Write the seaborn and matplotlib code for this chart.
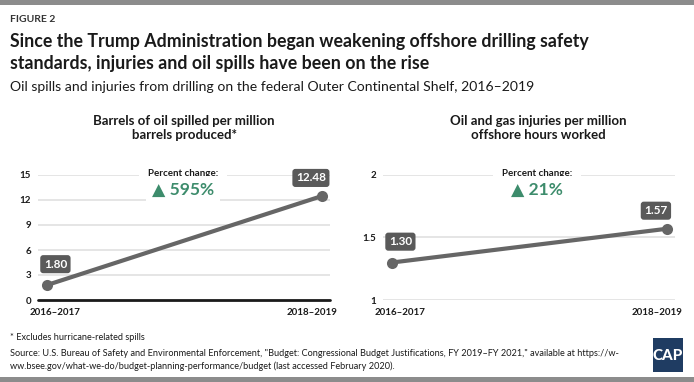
import matplotlib
matplotlib.use("Agg")
import matplotlib.pyplot as plt
import seaborn as sns
from matplotlib.patches import Rectangle
from matplotlib.transforms import ScaledTranslation

sns.set_theme(style="white")
plt.rcParams['font.family'] = ['Lato', 'DejaVu Sans']

# ---- data ----
periods = ["2016\u20132017", "2018\u20132019"]
oil_spilled = [1.80, 12.48]
injuries = [1.30, 1.57]
oil_change = "\u25b2 595%"
injury_change = "\u25b2 21%"
oil_title = "Barrels of oil spilled per million\nbarrels produced*"
injury_title = "Oil and gas injuries per million\noffshore hours worked"
oil_ticks = [0, 3, 6, 9, 12, 15]
injury_ticks = [1, 1.5, 2]
injury_ticklabels = ["1", "1.5", "2"]

LINE = "#666666"
BOX = "#5a5a5a"
GREEN = "#3d8c6c"
GRID = "#e0e0e0"

W, H = 694, 382
fig = plt.figure(figsize=(W / 100, H / 100), dpi=100)


def px_axes(x0, x1, ytop, ybot):
    return fig.add_axes([x0 / W, (H - ybot) / H, (x1 - x0) / W, (ybot - ytop) / H])


def panel(ax, values, ticks, ticklabels, ylim, change, title, cx, black_base):
    ax.set_ylim(*ylim)
    for t in ticks:
        if t == ylim[0] and black_base:
            continue
        ax.axhline(t, color=GRID, lw=1.2, zorder=0)
    if black_base:
        ax.axhline(ylim[0], color="#1a1a1a", lw=2, zorder=1, clip_on=False)
    sns.lineplot(x=periods, y=values, ax=ax, color=LINE, lw=3, marker="o",
                 markersize=8, markeredgewidth=0, zorder=3, clip_on=False)
    ax.set_xlim(-0.033, 1.029)
    ax.set_yticks(ticks)
    ax.set_yticklabels(ticklabels)
    ax.tick_params(axis="y", length=0, pad=5, labelsize=7)
    ax.tick_params(axis="x", length=0, pad=6, labelsize=7)
    for lab in ax.get_yticklabels() + ax.get_xticklabels():
        lab.set_fontweight("bold")
        lab.set_color("#1a1a1a")
    for lab, dx in zip(ax.get_xticklabels(), [8, -10]):
        lab.set_transform(lab.get_transform() + ScaledTranslation(dx / 100, 0, fig.dpi_scale_trans))
    ax.set_xlabel("")
    ax.set_ylabel("")
    sns.despine(ax=ax, left=True, bottom=True)
    for i, v in enumerate(values):
        off = (6, 15) if i == 0 else (-8, 13)
        ax.annotate(f"{v:.2f}", (i, v), xytext=off, textcoords="offset points",
                    ha="center", va="center", color="white", fontsize=8.5,
                    fontweight="bold", zorder=5, annotation_clip=False,
                    bbox=dict(boxstyle="round,pad=0.3,rounding_size=0.25",
                              fc=BOX, ec="none"))
    # percent change block
    fig.text(cx / W, 1 - 173 / H, "Percent change:", ha="center", va="center",
             fontsize=7, fontweight="bold", color="#1a1a1a", zorder=6,
             bbox=dict(boxstyle="square,pad=0.9", fc="white", ec="none"))
    fig.text(cx / W, 1 - 190 / H, change, ha="center", va="center",
             fontsize=12.5, fontweight="bold", color=GREEN, zorder=6,
             bbox=dict(boxstyle="square,pad=0.35", fc="white", ec="none"))
    fig.text((cx + 1) / W, 1 - 128 / H, title, ha="center", va="center",
             fontsize=9.5, fontweight="bold", color="#1a1a1a", linespacing=1.2)


ax1 = px_axes(38, 330, 175, 300)
panel(ax1, oil_spilled, oil_ticks, [str(t) for t in oil_ticks], (0, 15),
      oil_change, oil_title, 183, True)

ax2 = px_axes(383, 675, 175, 300)
panel(ax2, injuries, injury_ticks, injury_ticklabels, (1, 2),
      injury_change, injury_title, 537, False)

# header
fig.patches.append(Rectangle((0, 1 - 5 / H), 1, 5 / H, transform=fig.transFigure,
                             fc="#8c8c8c", ec="none"))
fig.patches.append(Rectangle((0, 0), 1, 5 / H, transform=fig.transFigure,
                             fc="#8c8c8c", ec="none"))
fig.text(10 / W, 1 - 20 / H, "FIGURE 2", fontsize=7.5, fontweight="bold",
         color="#333333", va="center")
fig.text(10 / W, 1 - 42 / H, "Since the Trump Administration began weakening offshore drilling safety",
         fontsize=12.8, fontweight="bold", color="#1a1a1a", va="center")
fig.text(10 / W, 1 - 64 / H, "standards, injuries and oil spills have been on the rise",
         fontsize=12.8, fontweight="bold", color="#1a1a1a", va="center")
fig.text(10 / W, 1 - 87 / H,
         "Oil spills and injuries from drilling on the federal Outer Continental Shelf, 2016\u20132019",
         fontsize=10.1, color="#1a1a1a", va="center")

# footer
fig.text(10 / W, 1 - 338 / H, "* Excludes hurricane-related spills", fontsize=6.6,
         color="#1a1a1a", va="center")
fig.text(10 / W, 1 - 354 / H,
         "Source: U.S. Bureau of Safety and Environmental Enforcement, \"Budget: Congressional Budget Justifications, FY 2019\u2013FY 2021,\" available at https://w-",
         fontsize=6.6, color="#1a1a1a", va="center")
fig.text(10 / W, 1 - 366 / H,
         "ww.bsee.gov/what-we-do/budget-planning-performance/budget (last accessed February 2020).",
         fontsize=6.6, color="#1a1a1a", va="center")

# CAP logo
fig.patches.append(Rectangle((653 / W, 1 - 372 / H), 30 / W, 34 / H,
                             transform=fig.transFigure, fc="#1f3c62", ec="none"))
fig.text(668 / W, 1 - 356 / H, "CAP", fontsize=11, fontweight="black",
         color="white", ha="center", va="center")

fig.savefig("out.png", dpi=100)
